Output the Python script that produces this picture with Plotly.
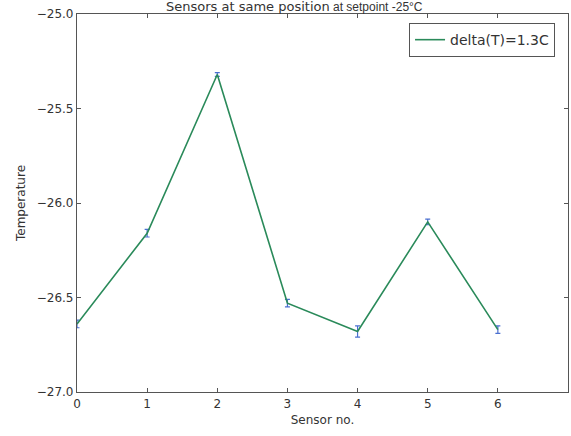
import plotly.graph_objects as go

sensors = [0, 1, 2, 3, 4, 5, 6]
temps = [-26.64, -26.16, -25.32, -26.53, -26.68, -26.10, -26.67]
errs = [0.02, 0.02, 0.01, 0.02, 0.03, 0.015, 0.02]
legend_label = "delta(T)=1.3C"
xticks = [0, 1, 2, 3, 4, 5, 6]
yticks = [-25.0, -25.5, -26.0, -26.5, -27.0]

font_main = "DejaVu Sans"
frame = "#555555"

fig = go.Figure()
fig.add_trace(go.Scatter(
    x=sensors, y=temps, mode="lines", name=legend_label,
    line=dict(color="#2a8a5a", width=1.6),
    error_y=dict(type="data", array=errs, visible=True, color="#4a6fd0", thickness=1.2, width=2.5),
))

fig.update_layout(
    width=571, height=436,
    margin=dict(l=77, r=3, t=14, b=44),
    paper_bgcolor="white", plot_bgcolor="white",
    font=dict(family=font_main, size=12, color="#333333"),
    showlegend=True,
    legend=dict(x=0.9736, y=0.976, xanchor="right", yanchor="top",
                bordercolor=frame, borderwidth=1, bgcolor="white",
                tracegroupgap=0, itemwidth=30,
                font=dict(size=14, family=font_main, color="#333333")),
    annotations=[dict(
        text="Sensors at same position<span style='font-size:12px;font-family:Liberation Sans'> at setpoint -25°C</span>",
        xref="paper", yref="paper", x=0.4425, y=1, xanchor="center", yanchor="bottom",
        yshift=-2, showarrow=False, font=dict(size=13, family=font_main, color="#333333"))],
)
fig.update_xaxes(
    range=[0, 7], tickvals=xticks, ticks="inside", ticklen=4, tickcolor=frame,
    showline=True, linecolor=frame, linewidth=1.2, mirror="ticks", showgrid=False, zeroline=False,
    title=dict(text="Sensor no.", font=dict(size=12), standoff=6),
)
fig.update_yaxes(
    range=[-27.0, -25.0], tickvals=yticks, tickformat=".1f", ticks="inside", ticklen=4, tickcolor=frame,
    showline=True, linecolor=frame, linewidth=1.2, mirror="ticks", showgrid=False, zeroline=False,
    title=dict(text="Temperature", font=dict(size=12), standoff=8),
)

fig.write_html("out.html")
